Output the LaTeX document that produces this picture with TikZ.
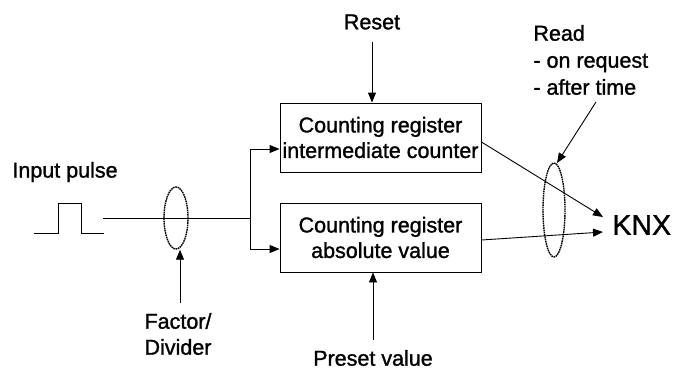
\documentclass[tikz,border=0pt]{standalone}
\usepackage{fontspec}
\setmainfont{Liberation Sans}[FakeBold=1.3]
\usetikzlibrary{arrows.meta,shapes.geometric}
\begin{document}
\begin{tikzpicture}[x=1pt,y=-1pt,
  line width=0.9pt,
  arr/.style={-{Triangle[length=10pt,width=8pt]}},
  lbl/.style={inner sep=0pt,font=\fontsize{21.5}{26}\selectfont,align=center},
  regbox/.style={draw,rectangle,minimum width=201pt,minimum height=69pt,inner sep=0pt,font=\fontsize{21.5}{25.5}\selectfont,align=center},
  dashell/.style={draw,ellipse,inner sep=0pt,line width=1.4pt,dash pattern=on 1.6pt off 0.7pt}]
\useasboundingbox (0,0) rectangle (676,369);
% boxes
\node[regbox] (box1) at (380.5,137.5) {Counting register\\intermediate counter};
\node[regbox] (box2) at (380.5,237.5) {Counting register\\absolute value};
% labels
\node[lbl,anchor=west] (inp) at (12,172) {Input pulse};
\node[lbl] (reset) at (372,22) {Reset};
\node[lbl] (preset) at (373,358) {Preset value};
\node[lbl] (factor) at (178,334) {Factor/\\Divider};
\node[lbl,anchor=west,align=left,font=\fontsize{21.5}{27}\selectfont] (read) at (533,60) {Read\\- on request\\- after time};
\node[inner sep=0pt,anchor=west,font=\fontsize{28.5}{30}\selectfont] (knx) at (612,225) {KNX};
% ellipses
\node[dashell,minimum width=24pt,minimum height=62pt] (ell1) at (176,218) {};
\node[dashell,minimum width=22pt,minimum height=94pt] (ell2) at (554,210) {};
% pulse
\draw (34,233) -- (58,233) -- (58,203) -- (81,203) -- (81,233) -- (104,233);
% input line and branch
\coordinate (in0) at (103,218);
\coordinate (br) at (250,218);
\draw (in0) -- (br);
\draw[arr] (br) |- ([yshift=-11.5pt]box1.west);
\draw[arr] (br) |- ([yshift=-11.5pt]box2.west);
% factor arrow
\coordinate (f0) at (180,303);
\draw[arr] (f0) -- (f0 |- ell1.south);
% reset / preset
\coordinate (r0) at (372,42);
\draw[arr] (r0) -- (r0 |- box1.north);
\coordinate (p0) at (373,340);
\draw[arr] (p0) -- (p0 |- box2.south);
% to KNX
\coordinate (k1) at (603,217);
\coordinate (k2) at (603,232);
\draw[arr] ([yshift=-4.5pt]box1.east) -- (k1);
\draw[arr] ([yshift=-2.5pt]box2.east) -- (k2);
% read arrow
\coordinate (rd0) at (596,102);
\draw[arr] (rd0) -- (557,163);
\end{tikzpicture}
\end{document}
